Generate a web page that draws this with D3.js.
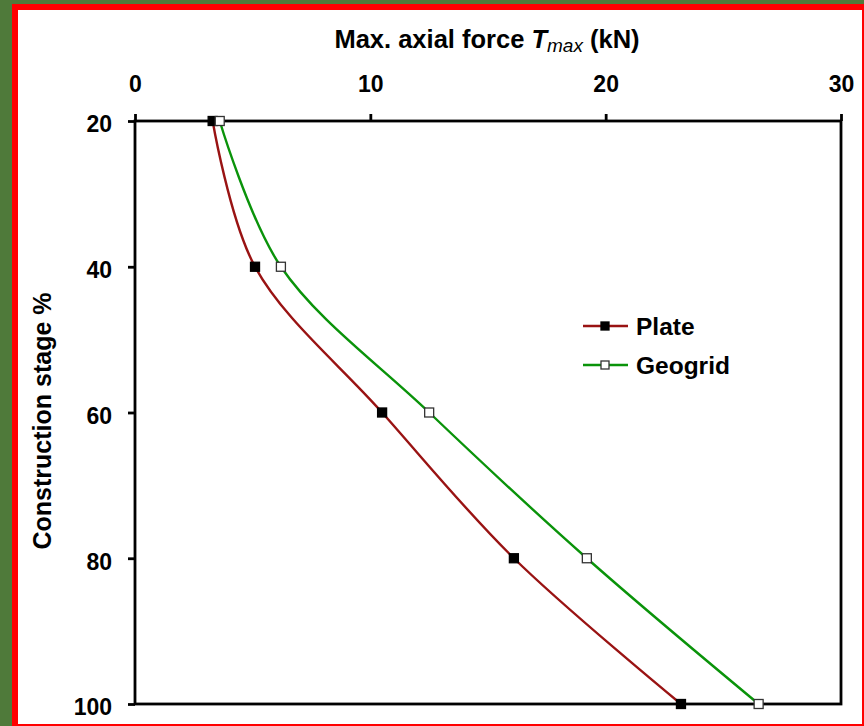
<!DOCTYPE html>
<html>
<head>
<meta charset="utf-8">
<script src="https://cdn.jsdelivr.net/npm/d3@7"></script>
<style>
  body { margin: 0; background: #4f7a3a; }
  text { font-family: Arial, "Liberation Sans", sans-serif; font-weight: bold; fill: #000; }
</style>
</head>
<body>
<div id="canvas"></div>
<script>
const stages = [20, 40, 60, 80, 100];
const plateForce = [3.3, 5.1, 10.5, 16.1, 23.2];
const geogridForce = [3.6, 6.2, 12.5, 19.2, 26.5];
const xTicks = [0, 10, 20, 30];
const yTicks = [20, 40, 60, 80, 100];

const width = 864, height = 726;

const svg = d3.select("#canvas")
  .append("svg")
  .attr("width", width)
  .attr("height", height);

// frame: green bg, red border, white panel
svg.append("rect").attr("width", width).attr("height", height).attr("fill", "#4f7a3a");
svg.append("rect").attr("x", 12).attr("y", 4).attr("width", width - 12).attr("height", height - 4).attr("fill", "#ff0000");
svg.append("rect").attr("x", 18).attr("y", 10).attr("width", 844).attr("height", 714).attr("fill", "#fff");

const x = d3.scaleLinear().domain([0, 30]).range([135, 841]);
const y = d3.scaleLinear().domain([20, 100]).range([121, 704]);

// plot box
svg.append("rect")
  .attr("x", x(0)).attr("y", y(20))
  .attr("width", x(30) - x(0)).attr("height", y(100) - y(20))
  .attr("fill", "none").attr("stroke", "#000").attr("stroke-width", 2.8);

const xAxis = svg.append("g")
  .attr("transform", `translate(0,${y(20)})`)
  .call(d3.axisTop(x).tickValues(xTicks).tickSize(7).tickPadding(22).tickFormat(d3.format("d")));
const yAxis = svg.append("g")
  .attr("transform", `translate(${x(0)},0)`)
  .call(d3.axisLeft(y).tickValues(yTicks).tickSize(7).tickPadding(16).tickFormat(d3.format("d")));

[xAxis, yAxis].forEach(a => {
  a.select(".domain").remove();
  a.selectAll(".tick line").attr("stroke", "#000").attr("stroke-width", 2.8);
  a.selectAll(".tick text")
    .style("font-size", "23px")
    .style("font-family", "Arial, 'Liberation Sans', sans-serif")
    .style("font-weight", "bold");
});
yAxis.selectAll(".tick text").attr("dy", "0.47em");

// titles
const xt = svg.append("text")
  .attr("x", 487).attr("y", 48)
  .attr("text-anchor", "middle")
  .style("font-size", "25.5px");
xt.append("tspan").text("Max. axial force ");
xt.append("tspan").text("T").style("font-style", "italic");
xt.append("tspan").text("max").style("font-style", "italic").style("font-weight", "normal").style("font-size", "19px").attr("dy", 4);
xt.append("tspan").text(" (kN)").attr("dy", -4);

svg.append("text")
  .attr("transform", "translate(51,421) rotate(-90)")
  .attr("text-anchor", "middle")
  .style("font-size", "25px")
  .text("Construction stage %");

const line = d3.line().curve(d3.curveCatmullRom.alpha(0.5));

const series = [
  { name: "Plate", vals: plateForce, color: "#991313", fill: "#000", stroke: "#000" },
  { name: "Geogrid", vals: geogridForce, color: "#0a930a", fill: "#fff", stroke: "#333" }
];

series.forEach(s => {
  const pts = stages.map((st, i) => [x(s.vals[i]), y(st)]);
  svg.append("path")
    .attr("d", line(pts))
    .attr("fill", "none")
    .attr("stroke", s.color)
    .attr("stroke-width", 2.4);
  svg.selectAll(null)
    .data(pts)
    .enter()
    .append("rect")
    .attr("x", d => d[0] - 4.5)
    .attr("y", d => d[1] - 4.5)
    .attr("width", 9).attr("height", 9)
    .attr("fill", s.fill)
    .attr("stroke", s.stroke)
    .attr("stroke-width", 1.3);
});

// legend
series.forEach((s, i) => {
  const ly = 326 + i * 39;
  svg.append("line")
    .attr("x1", 583).attr("x2", 628).attr("y1", ly).attr("y2", ly)
    .attr("stroke", s.color).attr("stroke-width", 2.4);
  svg.append("rect")
    .attr("x", 605 - 4).attr("y", ly - 4).attr("width", 8).attr("height", 8)
    .attr("fill", s.fill).attr("stroke", s.stroke).attr("stroke-width", 1.3);
  svg.append("text")
    .attr("x", 636).attr("y", ly + 8.5)
    .style("font-size", "24.5px")
    .text(s.name);
});
</script>
</body>
</html>
